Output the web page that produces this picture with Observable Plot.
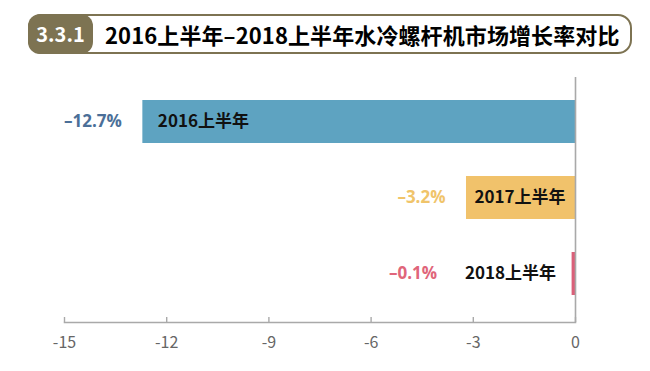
<!DOCTYPE html>
<html><head><meta charset="utf-8">
<script src="https://cdn.jsdelivr.net/npm/d3@7"></script>
<script src="https://cdn.jsdelivr.net/npm/@observablehq/plot@0.6"></script>
<style>
html,body{margin:0;padding:0;background:#fff;}
body{width:650px;height:371px;overflow:hidden;font-family:"Noto Sans CJK SC",sans-serif;}
#head{position:relative;height:72px;}
#box{position:absolute;left:28px;top:14px;width:604px;height:40px;border:2px solid #7d7352;border-radius:14px;box-sizing:border-box;}
#num{position:absolute;left:-2px;top:-2px;width:65px;height:40px;background:#7d7352;border-radius:12px;color:#fff;font-weight:700;font-size:20px;line-height:40px;text-align:center;}
#title{position:absolute;left:75px;top:-2px;line-height:40px;font-size:22px;font-weight:700;color:#000;white-space:nowrap;letter-spacing:0.1px;}
#chart svg{display:block;}
</style></head>
<body>
<div id="head"><div id="box"><div id="num"></div><div id="title"></div></div></div>
<div id="chart"></div>
<script>
const sectionNo = "3.3.1";
const titleText = "2016上半年–2018上半年水冷螺杆机市场增长率对比";
const periods = ["2016上半年", "2017上半年", "2018上半年"];
const growth = [-12.7, -3.2, -0.1];
const xTicks = [-15, -12, -9, -6, -3, 0];
const barColors = ["#5ea3c1", "#f1c26b", "#da6079"];
const labelColors = ["#4b6f98", "#f0c46a", "#e0657a"];

document.getElementById("num").textContent = sectionNo;
document.getElementById("title").textContent = titleText;

const rows = periods.map((p, i) => ({period: p, value: growth[i], labelColor: labelColors[i]}));
const fmt = v => (v < 0 ? "–" : "") + Math.abs(v).toFixed(1) + "%";
const axisGrey = "#a9a9a9";

const marks = [
  Plot.barX(rows, {x: "value", y: "period", fill: "period"}),
  Plot.ruleX([0], {stroke: axisGrey, strokeWidth: 1.6}),
  Plot.frame({anchor: "bottom", stroke: axisGrey, strokeWidth: 1.6}),
  Plot.ruleX(xTicks, {stroke: axisGrey, strokeWidth: 1.4, insetTop: 240}),
  Plot.axisX({ticks: xTicks, tickSize: 0, tickPadding: 14, tickFormat: d => String(d), label: null,
    fontSize: 16, fill: "#666", fontFamily: "Noto Sans CJK SC"})
];

rows.forEach(r => {
  const size = Math.abs(r.value);
  const big = size > 5, tiny = size < 1;
  // category label
  marks.push(Plot.text([r], {
    x: big || tiny ? "value" : () => 0,
    y: "period", text: "period",
    textAnchor: big ? "start" : "end",
    dx: big ? 15 : tiny ? -16 : -10,
    fontSize: 17, fontWeight: 700, fill: "#111", fontFamily: "Noto Sans CJK SC"
  }));
  // value label
  marks.push(Plot.text([r], {
    x: "value", y: "period", text: d => fmt(d.value),
    textAnchor: "end", dx: tiny ? -135 : -21,
    fontSize: 17, fontWeight: 700, fill: r.labelColor, fontFamily: "Open Sans"
  }));
});

const chart = Plot.plot({
  width: 650, height: 299,
  marginTop: 5, marginBottom: 49, marginLeft: 64, marginRight: 75,
  x: {domain: [-15, 0], label: null},
  y: {domain: periods, range: [-6, 256], padding: 0.436, axis: null},
  color: {domain: periods, range: barColors},
  style: {fontFamily: "Noto Sans CJK SC", background: "#fff", overflow: "visible"},
  marks
});
document.getElementById("chart").appendChild(chart);
</script>
</body></html>
